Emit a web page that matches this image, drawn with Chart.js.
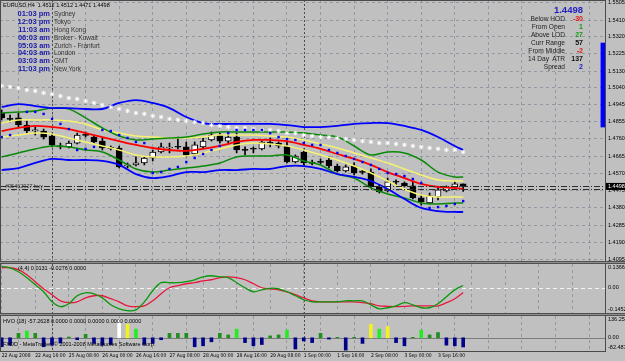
<!DOCTYPE html>
<html>
<head>
<meta charset="utf-8">
<title>EURUSD,H4</title>
<script src="https://cdn.jsdelivr.net/npm/chart.js@4.4.1/dist/chart.umd.min.js"></script>
<style>
  html, body { margin: 0; padding: 0; background: #c0c0c0; }
  #wrap { position: relative; width: 625px; height: 361px; overflow: hidden; background: #c0c0c0;
          font-family: "Liberation Sans", Arial, sans-serif; }
  #wrap canvas { position: absolute; left: 0; }
  .t { position: absolute; white-space: pre; }
  .ln { position: absolute; background: #4a4a4a; }
  .sep { position: absolute; left: 0; width: 625px; height: 3px;
         background: linear-gradient(#505050 0 1px, #8e8e8e 1px 2px, #505050 2px 3px); }
</style>
</head>
<body>
<div id="wrap">
  <canvas id="mainChart" width="625" height="263" style="top:0"></canvas>
  <canvas id="oscChart" width="625" height="49" style="top:264px"></canvas>
  <canvas id="volChart" width="625" height="45" style="top:316px"></canvas>
</div>
<script>
// ---------- data ----------
const timeLabels = ['22 Aug 2008', '22 Aug 16:00', '25 Aug 08:00', '26 Aug 00:00', '26 Aug 16:00',
  '27 Aug 08:00', '28 Aug 00:00', '28 Aug 16:00', '29 Aug 08:00', '1 Sep 00:00', '1 Sep 16:00',
  '2 Sep 08:00', '3 Sep 00:00', '3 Sep 16:00'];
const weekStarts = [6, 36];

const opens = [1.4901,1.4868,1.4874,1.4835,1.4802,1.4802,1.4775,1.4720,1.4715,1.4736,
  1.4780,1.4769,1.4747,1.4709,1.4709,1.4610,1.4616,1.4627,1.4654,1.4687,
  1.4709,1.4715,1.4715,1.4676,1.4715,1.4753,1.4780,1.4747,1.4769,1.4698,
  1.4704,1.4704,1.4742,1.4736,1.4720,1.4632,1.4687,1.4627,1.4632,1.4643,
  1.4610,1.4583,1.4610,1.4577,1.4577,1.4495,1.4473,1.4523,1.4517,1.4501,
  1.4435,1.4407,1.4440,1.4473,1.4495,1.4512];
const highs = [1.4918,1.4890,1.4901,1.4857,1.4824,1.4813,1.4791,1.4736,1.4747,1.4791,
  1.4797,1.4775,1.4764,1.4720,1.4720,1.4627,1.4660,1.4660,1.4698,1.4736,
  1.4736,1.4769,1.4742,1.4742,1.4764,1.4797,1.4791,1.4791,1.4791,1.4715,
  1.4715,1.4747,1.4764,1.4742,1.4742,1.4671,1.4704,1.4643,1.4649,1.4660,
  1.4621,1.4616,1.4627,1.4588,1.4594,1.4506,1.4544,1.4534,1.4523,1.4523,
  1.4451,1.4462,1.4490,1.4501,1.4523,1.4512];
const lows = [1.4863,1.4852,1.4824,1.4791,1.4780,1.4758,1.4715,1.4704,1.4709,1.4731,
  1.4769,1.4736,1.4698,1.4698,1.4599,1.4599,1.4610,1.4616,1.4638,1.4682,
  1.4682,1.4704,1.4660,1.4671,1.4709,1.4747,1.4736,1.4736,1.4682,1.4671,
  1.4682,1.4698,1.4715,1.4709,1.4627,1.4627,1.4616,1.4616,1.4621,1.4599,
  1.4577,1.4577,1.4561,1.4566,1.4490,1.4462,1.4468,1.4506,1.4495,1.4429,
  1.4396,1.4402,1.4424,1.4468,1.4490,1.4471];
const closes = [1.4874,1.4866,1.4835,1.4802,1.4808,1.4769,1.4726,1.4715,1.4736,1.4780,
  1.4778,1.4742,1.4709,1.4707,1.4605,1.4616,1.4627,1.4654,1.4687,1.4715,
  1.4711,1.4713,1.4671,1.4726,1.4747,1.4780,1.4747,1.4769,1.4698,1.4696,
  1.4702,1.4742,1.4731,1.4720,1.4632,1.4665,1.4627,1.4625,1.4630,1.4610,
  1.4583,1.4605,1.4572,1.4575,1.4495,1.4468,1.4523,1.4521,1.4501,1.4435,
  1.4413,1.4446,1.4479,1.4495,1.4512,1.4498];

// band lines, read every second bar
const bandBars = [0,2,4,6,8,10,12,14,16,18,20,22,24,26,28,30,32,34,36,38,40,42,44,46,48,50,52,54,55];
const outerUpper = [1.4934,1.4950,1.4939,1.4928,1.4928,1.4923,1.4923,1.4956,1.4972,1.4956,
  1.4928,1.4879,1.4846,1.4841,1.4841,1.4841,1.4841,1.4835,1.4824,1.4824,
  1.4830,1.4841,1.4846,1.4846,1.4830,1.4808,1.4769,1.4720,1.4698];
const outerLower = [1.4588,1.4599,1.4627,1.4649,1.4643,1.4643,1.4638,1.4616,1.4566,1.4544,
  1.4555,1.4577,1.4577,1.4588,1.4588,1.4594,1.4594,1.4610,1.4610,1.4594,
  1.4566,1.4550,1.4528,1.4484,1.4429,1.4380,1.4363,1.4358,1.4358];
const midUpper = [1.4901,1.4907,1.4912,1.4928,1.4923,1.4874,1.4819,1.4775,1.4753,1.4758,
  1.4764,1.4769,1.4786,1.4797,1.4797,1.4797,1.4797,1.4797,1.4791,1.4780,
  1.4769,1.4720,1.4671,1.4687,1.4682,1.4643,1.4577,1.4550,1.4550];
const midLower = [1.4660,1.4682,1.4704,1.4720,1.4715,1.4698,1.4687,1.4643,1.4594,1.4577,
  1.4588,1.4599,1.4610,1.4627,1.4660,1.4665,1.4665,1.4671,1.4638,1.4616,
  1.4566,1.4544,1.4490,1.4457,1.4435,1.4407,1.4402,1.4407,1.4407];
const innerUpper = [1.4846,1.4863,1.4863,1.4863,1.4857,1.4841,1.4808,1.4791,1.4775,1.4769,
  1.4764,1.4764,1.4769,1.4780,1.4780,1.4780,1.4775,1.4769,1.4753,1.4731,
  1.4709,1.4682,1.4654,1.4627,1.4594,1.4561,1.4534,1.4528,1.4528];
const innerLower = [1.4769,1.4780,1.4791,1.4786,1.4764,1.4742,1.4720,1.4698,1.4671,1.4660,
  1.4660,1.4665,1.4682,1.4704,1.4726,1.4736,1.4731,1.4720,1.4698,1.4671,
  1.4643,1.4610,1.4572,1.4528,1.4484,1.4451,1.4440,1.4440,1.4440];
const middleLine = [1.4802,1.4819,1.4830,1.4824,1.4813,1.4791,1.4769,1.4747,1.4726,1.4709,
  1.4698,1.4693,1.4704,1.4720,1.4742,1.4753,1.4753,1.4747,1.4726,1.4704,
  1.4676,1.4649,1.4616,1.4577,1.4544,1.4512,1.4495,1.4490,1.4484];

const sarDots = [1.4769,1.4780,null,1.4907,1.4907,1.4896,1.4868,1.4841,1.4813,1.4698,
  1.4704,1.4715,1.4808,1.4802,1.4780,1.4764,1.4742,1.4736,1.4572,1.4577,
  1.4594,1.4605,1.4632,1.4654,1.4676,1.4698,1.4720,1.4791,1.4808,1.4808,
  1.4808,1.4808,1.4791,1.4769,1.4758,1.4753,1.4736,1.4726,1.4726,1.4698,
  1.4682,1.4665,1.4649,1.4632,1.4616,1.4594,1.4572,1.4566,1.4555,1.4539,
  1.4517,1.4380,1.4385,1.4391,1.4402,1.4418];
const starDots = [1.5049,1.5044,1.5038,1.5027,1.5022,1.5011,1.5005,1.4994,1.4983,1.4978,
  1.4967,1.4956,1.4945,1.4934,1.4923,1.4912,1.4901,1.4896,1.4885,1.4879,
  1.4868,1.4863,1.4857,1.4852,1.4846,1.4835,1.4830,1.4824,1.4819,1.4819,
  1.4813,1.4808,1.4808,1.4802,1.4791,1.4791,1.4780,1.4775,1.4769,1.4769,
  1.4764,1.4758,1.4753,1.4747,1.4742,1.4736,1.4736,1.4731,1.4726,1.4720,
  1.4715,1.4709,1.4704,1.4698,1.4698,1.4687];

const rangeBar = [1.4824, 1.5285];
const orderLevels = [1.4501, 1.4484];
const mainTicks = [1.5505,1.5410,1.5320,1.5225,1.5130,1.5040,1.4945,1.4855,1.4760,1.4665,
  1.4570,1.4475,1.4380,1.4285,1.4190,1.4095];
const mainRange = [1.4078, 1.5521];

const oscFast = [0.121,0.115,0.092,0.058,0.017,-0.023,-0.081,-0.109,-0.092,-0.046,
  -0.029,-0.035,-0.058,-0.098,-0.121,-0.132,-0.127,-0.081,-0.017,0.029,
  0.029,0.029,0.035,0.046,0.063,0.069,0.063,0.058,0.029,0.000,
  -0.023,-0.012,-0.003,-0.006,-0.023,-0.046,-0.069,-0.081,-0.081,-0.081,
  -0.081,-0.075,-0.075,-0.075,-0.098,-0.121,-0.115,-0.104,-0.086,-0.098,
  -0.115,-0.115,-0.092,-0.052,-0.012,0.0131];
const oscSlow = [0.115,0.115,0.104,0.075,0.035,-0.006,-0.040,-0.075,-0.086,-0.081,
  -0.058,-0.046,-0.046,-0.063,-0.081,-0.104,-0.109,-0.104,-0.075,-0.035,
  0.000,0.012,0.023,0.029,0.040,0.046,0.058,0.063,0.058,0.046,
  0.023,0.000,-0.006,-0.012,-0.023,-0.040,-0.058,-0.075,-0.081,-0.081,
  -0.081,-0.081,-0.081,-0.086,-0.092,-0.104,-0.107,-0.109,-0.107,-0.104,
  -0.104,-0.104,-0.104,-0.086,-0.063,-0.0276];
const oscScale = [0.1366, 0, -0.1452];

const hvo = [-56,-46,28,42,28,-56,-46,-33,5,-12,
  22,-35,-46,-42,117,84,54,-42,-35,-12,
  28,28,28,-56,-50,-25,28,18,54,-30,
  -50,-42,12,18,48,-70,-20,-30,28,-8,
  3,-77,3,-35,85,54,69,-30,-50,3,
  48,18,33,-46,-50,-57.2628];
// 0 down, 1 up, 2 strong, 3 climax, 4 extreme
const hvoLevel = [0,0,1,2,1,0,0,0,1,0,
  1,0,0,0,4,3,2,0,0,0,
  1,1,1,0,0,0,1,1,2,0,
  0,0,1,1,2,0,0,0,1,0,
  1,0,1,0,3,2,3,0,0,1,
  2,1,1,0,0,0];
const hvoScale = [136.2541, 0, -82.4873];

const clockTimes = ['01:03 pm','12:03 pm','11:03 am','06:03 am','05:03 am','04:03 am','03:03 am','11:03 pm'];
const clockPlaces = ['Sydney','Tokyo','Hong Kong','Broker - Kuwait','Zurich - Franfurt','London','GMT','New York'];
const statNames = ['Below HOD','From Open','Above LOD','Curr Range','From Middle','14 Day  ATR','Spread'];
const statValues = ['-30','1','27','57','-2','137','2'];

// ---------- style ----------
const FONT = '"Liberation Sans", Arial, sans-serif';
const NARROW = '"Liberation Sans Narrow", "DejaVu Sans Condensed", "Liberation Sans", sans-serif';
const GRID = 'rgba(112,122,138,0.55)';
const BLUE = '#0000ff', GREEN = '#0a8a0a', YELLOW = '#f6f272', RED = '#ff0000';
const hvoColors = ['#00008b', '#1f8f1f', '#22ee22', '#f2f21e', '#ffffff'];
const statColors = ['#e01818', '#139a13', '#139a13', '#111111', '#e01818', '#111111', '#1c1cc8'];
const X_MIN = -0.2, X_MAX = 71.9;

Chart.defaults.font.family = FONT;
const idx = opens.map((_, i) => i);

function xAxis(showLabels) {
  return {
    type: 'linear', min: X_MIN, max: X_MAX, offset: false,
    afterBuildTicks: s => { s.ticks = []; for (let v = 0; v <= X_MAX; v += 4) s.ticks.push({ value: v }); },
    afterFit: s => { s.height = showLabels ? 10 : 0; s.paddingLeft = 0; s.paddingRight = 0; },
    grid: { color: GRID, drawTicks: false },
    border: { display: false, dash: [3, 3] },
    ticks: {
      display: showLabels, autoSkip: false, maxRotation: 0, minRotation: 0, align: 'start', padding: 2,
      color: '#000', font: { size: 5, family: NARROW },
      callback: v => (v % 4 === 0 && timeLabels[v / 4]) || ''
    }
  };
}

const weekLines = {
  id: 'weekLines',
  beforeDatasetsDraw(chart) {
    const { ctx, chartArea: { top, bottom }, scales: { x } } = chart;
    ctx.save();
    ctx.strokeStyle = '#4e4e4e'; ctx.lineWidth = 1; ctx.setLineDash([2, 2]);
    weekStarts.forEach(b => {
      const px = Math.round(x.getPixelForValue(b)) + 0.5;
      ctx.beginPath(); ctx.moveTo(px, top); ctx.lineTo(px, bottom); ctx.stroke();
    });
    ctx.restore();
  }
};

function levelLine(value, color, dash) {
  return {
    id: 'levelLine',
    beforeDatasetsDraw(chart) {
      const { ctx, chartArea: { left, right }, scales: { y } } = chart;
      const py = Math.round(y.getPixelForValue(value)) + 0.5;
      ctx.save();
      ctx.strokeStyle = color; ctx.lineWidth = 1; ctx.setLineDash(dash);
      ctx.beginPath(); ctx.moveTo(left, py); ctx.lineTo(right, py); ctx.stroke();
      ctx.restore();
    }
  };
}

function sideLabels(values, digits) {
  return {
    id: 'sideLabels',
    afterDraw(chart) {
      const { ctx, chartArea: { right, top, bottom }, scales: { y } } = chart;
      ctx.save();
      ctx.font = '5.5px ' + FONT; ctx.fillStyle = '#000'; ctx.textBaseline = 'middle';
      values.forEach(v => {
        const py = Math.min(Math.max(y.getPixelForValue(v), top + 3.5), bottom - 3.5);
        ctx.fillText(v === 0 ? '0.00' : v.toFixed(digits), right + 3, py);
      });
      ctx.restore();
    }
  };
}

const mainExtras = {
  id: 'mainExtras',
  afterDatasetsDraw(chart) {
    const { ctx, chartArea: { left, right }, scales: { y } } = chart;
    ctx.save();
    ctx.strokeStyle = '#2c2c2c'; ctx.lineWidth = 1; ctx.setLineDash([6, 2, 1, 2]);
    orderLevels.forEach(p => {
      const py = Math.round(y.getPixelForValue(p)) + 0.5;
      ctx.beginPath(); ctx.moveTo(left, py); ctx.lineTo(right, py); ctx.stroke();
    });
    ctx.restore();
  },
  afterDraw(chart) {
    const { ctx, chartArea: { right }, scales: { y } } = chart;
    const last = closes[closes.length - 1];
    const py = y.getPixelForValue(last);
    ctx.save();
    ctx.fillStyle = '#000'; ctx.fillRect(right + 1, py - 3.5, 20, 7);
    ctx.fillStyle = '#fff'; ctx.font = '5.5px ' + FONT; ctx.textBaseline = 'middle';
    ctx.fillText(last.toFixed(4), right + 3, py);
    ctx.restore();
  }
};

const band = (vals, color, width) => ({
  type: 'line', data: bandBars.map((b, k) => ({ x: b, y: vals[k] })),
  borderColor: color, borderWidth: width, pointRadius: 0, tension: 0.35, order: 2
});

const baseOptions = {
  responsive: false, animation: false, events: [],
  plugins: { legend: { display: false }, tooltip: { enabled: false } }
};

// ---------- main price panel ----------
new Chart(document.getElementById('mainChart'), {
  type: 'bar',
  data: {
    datasets: [
      band(outerUpper, BLUE, 1.8), band(outerLower, BLUE, 1.8),
      band(midUpper, GREEN, 1.5), band(midLower, GREEN, 1.5),
      band(innerUpper, YELLOW, 1.5), band(innerLower, YELLOW, 1.5),
      band(middleLine, RED, 1.8),
      { type: 'line', data: idx.map(i => ({ x: i, y: sarDots[i] })), showLine: false,
        pointStyle: 'rect', pointRadius: 1.7, pointBackgroundColor: BLUE, pointBorderWidth: 0, order: 1 },
      { type: 'line', data: idx.map(i => ({ x: i, y: starDots[i] })), showLine: false,
        pointStyle: 'star', pointRadius: 2.2, pointBorderColor: '#ffffff', pointBorderWidth: 1, order: 1 },
      { type: 'bar', data: idx.map(i => ({ x: i, y: [lows[i], highs[i]] })), backgroundColor: '#000',
        barThickness: 1, grouped: false, order: 6 },
      { type: 'bar', data: idx.map(i => ({ x: i, y: [opens[i], closes[i]] })),
        backgroundColor: idx.map(i => closes[i] >= opens[i] ? '#ffffff' : '#000000'),
        borderColor: '#000', borderWidth: 1, borderSkipped: false, barThickness: 6, minBarLength: 1,
        grouped: false, order: 5 },
      { type: 'bar', data: [{ x: X_MAX - 0.25, y: rangeBar }], backgroundColor: BLUE,
        barThickness: 4, grouped: false, order: 5 }
    ]
  },
  options: {
    ...baseOptions,
    layout: { autoPadding: false, padding: 0 },
    scales: {
      x: xAxis(false),
      y: {
        type: 'linear', position: 'right', min: mainRange[0], max: mainRange[1],
        afterBuildTicks: s => { s.ticks = mainTicks.map(v => ({ value: v })); },
        afterFit: s => { s.width = 20; s.paddingTop = 0; s.paddingBottom = 0; },
        grid: { color: GRID, drawTicks: false },
        border: { display: false, dash: [3, 3] },
        ticks: { color: '#000', font: { size: 5.5 }, padding: 3, autoSkip: false, callback: v => v.toFixed(4) }
      }
    }
  },
  plugins: [weekLines, mainExtras]
});

// ---------- oscillator panel ----------
new Chart(document.getElementById('oscChart'), {
  type: 'line',
  data: {
    datasets: [
      { data: idx.map(i => ({ x: i, y: oscFast[i] })), borderColor: '#0c960c', borderWidth: 1.3, pointRadius: 0, tension: 0.35 },
      { data: idx.map(i => ({ x: i, y: oscSlow[i] })), borderColor: '#e8173e', borderWidth: 1.3, pointRadius: 0, tension: 0.35 }
    ]
  },
  options: {
    ...baseOptions,
    layout: { autoPadding: false, padding: { right: 20 } },
    scales: { x: xAxis(false), y: { display: false, min: oscScale[2], max: oscScale[0] } }
  },
  plugins: [weekLines, levelLine(0, '#f4f4f4', [4, 3]), sideLabels(oscScale, 4)]
});

// ---------- volume oscillator panel ----------
new Chart(document.getElementById('volChart'), {
  type: 'bar',
  data: {
    datasets: [{
      data: idx.map(i => ({ x: i, y: hvo[i] })),
      backgroundColor: idx.map(i => hvoColors[hvoLevel[i]]),
      barThickness: 3, grouped: false
    }]
  },
  options: {
    ...baseOptions,
    layout: { autoPadding: false, padding: { right: 20 } },
    scales: { x: xAxis(true), y: { display: false, min: hvoScale[2], max: hvoScale[0] } }
  },
  plugins: [weekLines, levelLine(0, '#7c7c7c', []), sideLabels(hvoScale, 4)]
});

// ---------- frame and text overlays ----------
const wrap = document.getElementById('wrap');
function put(cls, text, css) {
  const d = document.createElement('div');
  d.className = cls;
  if (text !== null) d.textContent = text;
  Object.assign(d.style, css);
  wrap.appendChild(d);
  return d;
}
put('ln', null, { left: '0px', top: '0px', width: '606px', height: '1px' });
put('ln', null, { left: '0px', top: '0px', width: '1px', height: '352px' });
put('ln', null, { left: '605px', top: '0px', width: '1px', height: '352px' });
put('ln', null, { left: '0px', top: '351px', width: '606px', height: '1px' });
put('sep', null, { top: '261px' });
put('sep', null, { top: '313px' });

const small = { fontSize: '5.5px', lineHeight: '6px', height: '6px', color: '#000' };
put('t', 'EURUSD,H4  1.4512 1.4512 1.4471 1.4498', { ...small, left: '3px', top: '2px' });
put('t', '(4,4) 0.0131 -0.0276 0.0000', { ...small, left: '18px', top: '265px' });
put('t', 'HVO (18) -57.2628 0.0000 0.0000 0.0000 0.0000 0.0000', { ...small, left: '3px', top: '318px' });
put('t', 'FXDD - MetaTrader, \u00a9 2001-2008 MetaQuotes Software Corp.', { ...small, left: '3px', top: '341px' });
put('t', '#95462927 buy', { ...small, left: '5px', top: '183px', color: '#333' });

clockTimes.forEach((tm, i) => {
  const top = (14.3 + i * 7.8 - 4) + 'px';
  put('t', tm, { left: '0px', width: '50px', textAlign: 'right', top, fontSize: '7.5px', fontWeight: 'bold',
    lineHeight: '8px', color: '#1a1aa8' });
  put('t', clockPlaces[i], { left: '54px', top, fontSize: '6.4px', lineHeight: '8px', color: '#333' });
});

put('t', closes[closes.length - 1].toFixed(4), { right: '42px', top: '4px', fontSize: '9.5px', fontWeight: 'bold',
  lineHeight: '11px', color: '#2323c0' });
statNames.forEach((nm, i) => {
  const top = (18.5 + i * 8 - 4) + 'px';
  put('t', nm, { right: '60px', top, fontSize: '6.6px', lineHeight: '8px', color: '#222' });
  put('t', statValues[i], { right: '42px', top, fontSize: '7px', fontWeight: 'bold', lineHeight: '8px',
    color: statColors[i] });
});
</script>
</body>
</html>
